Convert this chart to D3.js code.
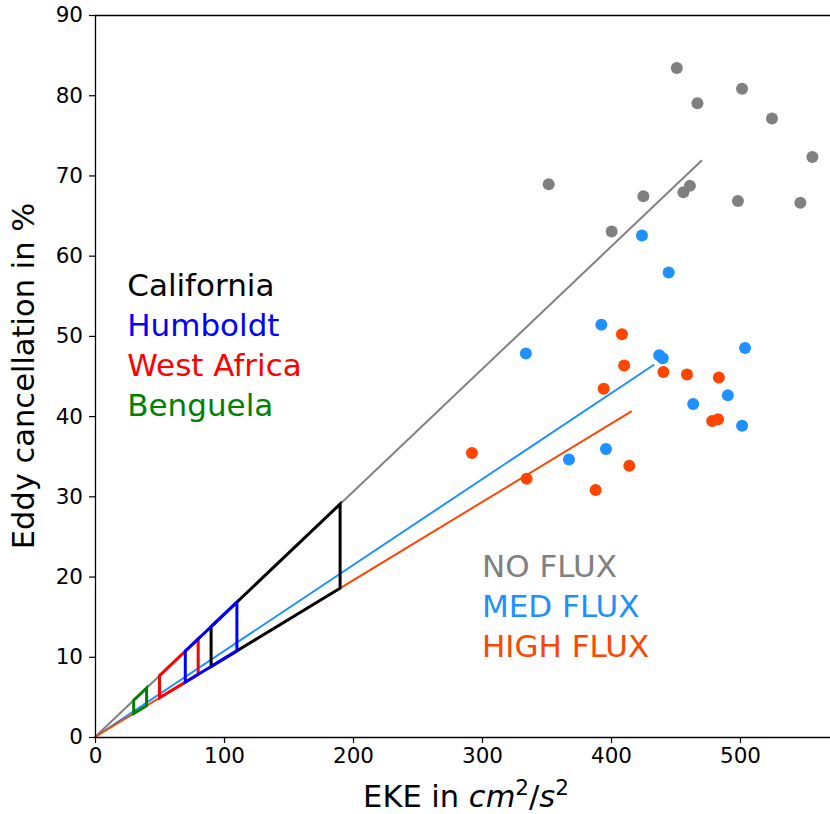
<!DOCTYPE html>
<html>
<head>
<meta charset="utf-8">
<script src="https://cdn.jsdelivr.net/npm/d3@7"></script>
<style>
  body { margin: 0; background: #fff; }
  svg { display: block; font-family: "DejaVu Sans", sans-serif; }
</style>
</head>
<body>
<svg id="chart" width="830" height="814"></svg>
<script>
// data
const noFluxEke  = [451, 501.6, 467, 524.8, 556.1, 351.7, 425.1, 461.2, 456.1, 498.4, 546.8, 400.5];
const noFluxCanc = [83.4, 80.8, 79.0, 77.1, 72.3, 68.9, 67.4, 68.7, 67.9, 66.8, 66.6, 63.0];

const medFluxEke  = [424, 444.7, 392.5, 334, 437.4, 440.1, 503.9, 490.6, 463.7, 501.6, 396.1, 367.4];
const medFluxCanc = [62.5, 57.9, 51.4, 47.8, 47.6, 47.2, 48.5, 42.6, 41.5, 38.8, 35.9, 34.6];

const highFluxEke  = [408.5, 410.2, 394.3, 440.6, 458.9, 483.6, 478.4, 483.0, 292.2, 334.6, 414.2, 388.1];
const highFluxCanc = [50.2, 46.3, 43.4, 45.5, 45.2, 44.8, 39.4, 39.6, 35.4, 32.2, 33.8, 30.8];

// fits through the origin: slope and last EKE drawn
const fitNames  = ["NO FLUX", "MED FLUX", "HIGH FLUX"];
const fitSlope  = [0.1528, 0.1071, 0.0976];
const fitEkeEnd = [470.5, 433.6, 416.1];

// EKE ranges of the upwelling systems
const regionNames  = ["California", "West Africa", "Humboldt", "Benguela"];
const regionEkeMin = [90, 50, 70, 30];
const regionEkeMax = [190, 80, 110, 40];

const xTicks = [0, 100, 200, 300, 400, 500];
const yTicks = [0, 10, 20, 30, 40, 50, 60, 70, 80, 90];

const fluxColors = { "NO FLUX": "#808080", "MED FLUX": "#1e90ff", "HIGH FLUX": "#ff4500" };
const regionColors = { "California": "#000000", "Humboldt": "#0000ff", "West Africa": "#ff0000", "Benguela": "#008000" };

const m = { left: 95, right: 830.3, top: 15, bottom: 737 };

const svg = d3.select("#chart");

const x = d3.scaleLinear().domain([0, 570]).range([m.left, m.right]);
const y = d3.scaleLinear().domain([0, 90]).range([m.bottom, m.top]);

// fit lines
const lines = svg.append("g");
fitNames.forEach((name, i) => {
    lines.append("line")
        .attr("x1", x(0)).attr("y1", y(0))
        .attr("x2", x(fitEkeEnd[i])).attr("y2", y(fitEkeEnd[i] * fitSlope[i]))
        .attr("stroke", fluxColors[name])
        .attr("stroke-width", 2);
});

// region boxes between the upper (no flux) and lower (high flux) fits
const upper = fitSlope[0], lower = fitSlope[2];
const boxes = svg.append("g");
regionNames.forEach((name, i) => {
    const a = regionEkeMin[i], b = regionEkeMax[i];
    const pts = [[a, a * upper], [b, b * upper], [b, b * lower], [a, a * lower]];
    boxes.append("polygon")
        .attr("points", pts.map(p => [x(p[0]), y(p[1])].join(",")).join(" "))
        .attr("fill", "none")
        .attr("stroke", regionColors[name])
        .attr("stroke-width", 3)
        .attr("stroke-linejoin", "miter");
});

// scatter
const series = [
    { name: "NO FLUX", eke: noFluxEke, canc: noFluxCanc },
    { name: "MED FLUX", eke: medFluxEke, canc: medFluxCanc },
    { name: "HIGH FLUX", eke: highFluxEke, canc: highFluxCanc }
];
series.forEach(s => {
    svg.append("g")
        .selectAll("circle")
        .data(s.eke.map((e, i) => [e, s.canc[i]]))
        .join("circle")
        .attr("cx", d => x(d[0]))
        .attr("cy", d => y(d[1]))
        .attr("r", 6)
        .attr("fill", fluxColors[s.name]);
});

// top spine (right one falls outside the picture)
svg.append("line").attr("x1", m.left).attr("x2", 840).attr("y1", m.top + 0.5).attr("y2", m.top + 0.5)
    .attr("stroke", "#000").attr("stroke-width", 1.3);

// axes
const xAxis = svg.append("g")
    .attr("transform", `translate(0,${m.bottom})`)
    .call(d3.axisBottom(x).tickValues(xTicks).tickSize(6).tickPadding(5).tickFormat(d3.format("d")));
const yAxis = svg.append("g")
    .attr("transform", `translate(${m.left},0)`)
    .call(d3.axisLeft(y).tickValues(yTicks).tickSize(6).tickPadding(6).tickFormat(d3.format("d")));

[xAxis, yAxis].forEach(g => {
    g.select(".domain").attr("stroke", "#000").attr("stroke-width", 1.3);
    g.selectAll(".tick line").attr("stroke", "#000").attr("stroke-width", 1.2);
    g.selectAll(".tick text")
        .attr("fill", "#000")
        .style("font-family", "DejaVu Sans")
        .style("font-size", "21.5px");
});
xAxis.select(".domain").attr("d", `M${m.left},0.5H840`);
yAxis.select(".domain").attr("d", `M0.5,${m.top}V${m.bottom}`);

// axis labels
const xl = svg.append("text")
    .attr("x", 466).attr("y", 807)
    .attr("text-anchor", "middle")
    .style("font-size", "30.5px");
xl.append("tspan").text("EKE in ");
xl.append("tspan").attr("font-style", "italic").text("cm");
xl.append("tspan").attr("font-size", "21.5px").attr("dy", -12).text("2");
xl.append("tspan").attr("dy", 12).text("/");
xl.append("tspan").attr("font-style", "italic").text("s");
xl.append("tspan").attr("font-size", "21.5px").attr("dy", -12).text("2");

svg.append("text")
    .attr("transform", `translate(34,${(m.top + m.bottom) / 2}) rotate(-90)`)
    .attr("text-anchor", "middle")
    .style("font-size", "30.5px")
    .text("Eddy cancellation in %");

// annotations
const regionLabelOrder = ["California", "Humboldt", "West Africa", "Benguela"];
const regionLabelY = [55, 50, 45, 40];
regionLabelOrder.forEach((name, i) => {
    svg.append("text")
        .attr("x", x(25)).attr("y", y(regionLabelY[i]))
        .attr("fill", regionColors[name])
        .style("font-size", "31px")
        .text(name);
});

const fluxLabelY = [20, 15, 10];
fitNames.forEach((name, i) => {
    svg.append("text")
        .attr("x", x(300)).attr("y", y(fluxLabelY[i]))
        .attr("fill", fluxColors[name])
        .style("font-size", "31px")
        .text(name);
});
</script>
</body>
</html>
